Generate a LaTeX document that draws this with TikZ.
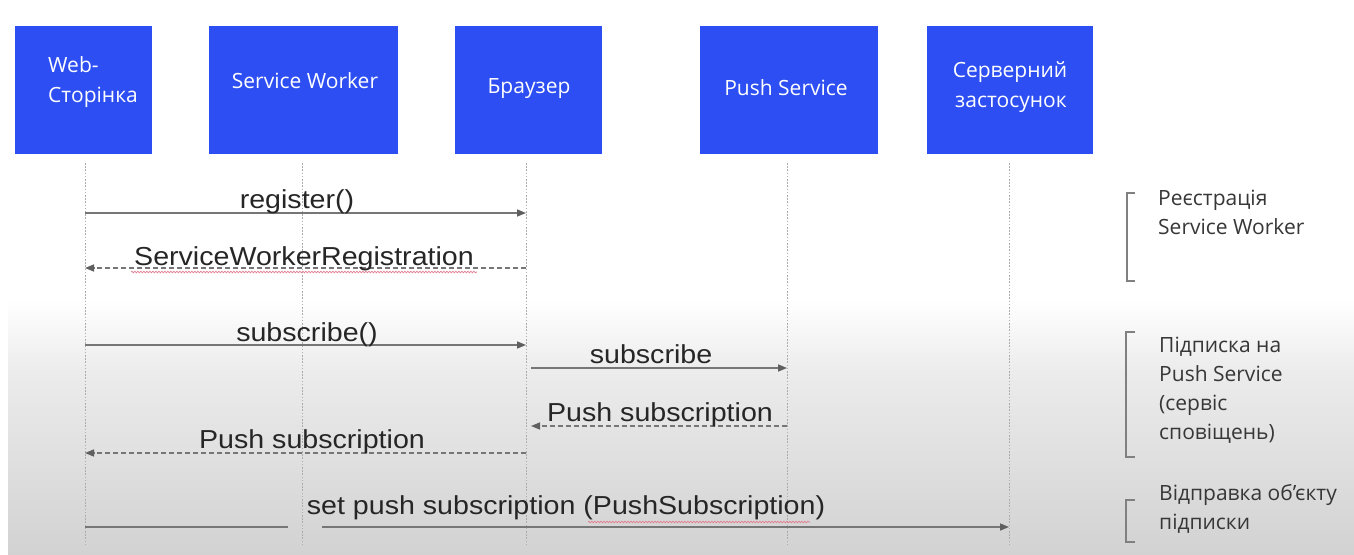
\documentclass[tikz,border=0pt]{standalone}
\usepackage{fontspec}
\usetikzlibrary{arrows.meta,decorations.pathmorphing}

\newfontfamily\boxfont{Open Sans}
\newfontfamily\msgfont[FakeStretch=1.1]{Liberation Sans}
\newfontfamily\notefont{Open Sans}

\definecolor{actorblue}{RGB}{44,78,242}
\definecolor{wire}{RGB}{118,118,118}
\definecolor{tipgray}{RGB}{95,95,95}
\definecolor{lifegray}{RGB}{172,172,172}
\definecolor{inkgray}{RGB}{38,38,38}
\definecolor{notegray}{RGB}{55,55,55}
\definecolor{squiggle}{RGB}{226,125,145}
\definecolor{fadeA}{RGB}{236,236,236}
\definecolor{fadeB}{RGB}{210,210,210}

\begin{document}
\begin{tikzpicture}[x=1pt,y=-1pt,
  actor/.style={draw=none,fill=actorblue,inner sep=0pt},
  actortext/.style={font=\boxfont\fontsize{21}{28}\selectfont,text=white,inner sep=0pt,anchor=base},
  lifeline/.style={draw=lifegray,line width=0.9pt,dash pattern=on 1.6pt off 1.6pt},
  callmsg/.style={draw=wire,line width=1.5pt,-{Triangle[length=9pt,width=7pt,fill=tipgray,color=tipgray]}},
  plainmsg/.style={draw=wire,line width=1.5pt},
  replymsg/.style={callmsg,dash pattern=on 5pt off 3pt},
  msgtext/.style={font=\msgfont\fontsize{26}{30}\selectfont,text=inkgray,inner sep=0pt,anchor=base},
  bracket/.style={draw=gray,line width=1.5pt},
  note/.style={font=\notefont\fontsize{21}{29}\selectfont,text=notegray,inner sep=0pt,anchor=north west,align=left},
  spell/.style={draw=squiggle,line width=0.7pt,decorate,decoration={snake,amplitude=0.8pt,segment length=3pt}}
]
\useasboundingbox (0,0) rectangle (1354,554);

% page background: white top, grey fade towards the bottom
\fill[white] (0,0) rectangle (1354,554);
\shade[top color=white,bottom color=fadeA] (8,300) rectangle (1354,370);
\shade[top color=fadeA,bottom color=fadeB] (8,370) rectangle (1354,554);

% participants
\node[actor,minimum width=137pt,minimum height=128pt] (web)  at (83.5,90) {};
\node[actor,minimum width=189pt,minimum height=128pt] (sw)   at (303.5,90) {};
\node[actor,minimum width=147pt,minimum height=128pt] (brw)  at (528.5,90) {};
\node[actor,minimum width=178pt,minimum height=128pt] (push) at (789,90) {};
\node[actor,minimum width=166pt,minimum height=128pt] (srv)  at (1010,90) {};

\node[actortext,anchor=base west] (webt1) at (48,72) {Web-};
\node[actortext,anchor=base west] (webt2) at (48,102) {Сторінка};
\node[actortext] (swt)   at (305,88)  {Service Worker};
\node[actortext] (brwt)  at (529,93)  {Браузер};
\node[actortext] (pusht) at (786,95)  {Push Service};
\node[actortext] (srvt1) at (1010,77) {Серверний};
\node[actortext] (srvt2) at (1011,107) {застосунок};

% lifelines
\coordinate (webL)  at (85,163);
\coordinate (swL)   at (302,163);
\coordinate (brwL)  at (526,163);
\coordinate (pushL) at (787,163);
\coordinate (srvL)  at (1009,163);
\coordinate (lifeEnd) at (0,545);
\foreach \l in {webL,swL,brwL,pushL,srvL}
  \draw[lifeline] (\l) -- (\l |- lifeEnd);

% message rows
\coordinate (r1) at (0,213);
\coordinate (r2) at (0,268);
\coordinate (r3) at (0,345);
\coordinate (r4) at (0,368);
\coordinate (r5) at (0,426);
\coordinate (r6) at (0,453);
\coordinate (r7) at (0,527);

\draw[callmsg]  (webL |- r1) -- (brwL |- r1);
\node[msgtext] (m1) at (297,208) {register()};

\draw[replymsg] (brwL |- r2) -- (webL |- r2);
\node[msgtext] (m2) at (304,265) {ServiceWorkerRegistration};
\draw[spell] (131,272) -- (477,272);

\draw[callmsg]  (webL |- r3) -- (brwL |- r3);
\node[msgtext] (m3) at (307,341) {subscribe()};

\draw[callmsg]  ([xshift=5pt]brwL |- r4) -- (pushL |- r4);
\node[msgtext] (m4) at (651,363) {subscribe};

\draw[replymsg] (pushL |- r5) -- ([xshift=5pt]brwL |- r5);
\node[msgtext] (m5) at (660,421) {Push subscription};

\draw[replymsg] (brwL |- r6) -- (webL |- r6);
\node[msgtext] (m6) at (312,448) {Push subscription};

\coordinate (gapL) at (288,527);
\coordinate (gapR) at (322,527);
\draw[plainmsg] (webL |- r7) -- (gapL);
\draw[callmsg]  (gapR) -- (srvL |- r7);
\node[msgtext] (m7) at (566,514) {set push subscription (PushSubscription)};
\draw[spell] (588,522) -- (810,522);

% phase brackets and their notes
\draw[bracket] (1135,193) -- (1127,193) -- (1127,281) -- (1135,281);
\node[note] (n1) at (1158,190) {Реєстрація\\Service Worker};

\draw[bracket] (1135,332) -- (1126,332) -- (1126,457) -- (1135,457);
\node[note] (n2) at (1159,337) {Підписка на\\Push Service\\(сервіс\\сповіщень)};

\draw[bracket] (1135,500) -- (1126,500) -- (1126,542) -- (1135,542);
\node[note] (n3) at (1159,484) {Відправка об’єкту\\підписки};
\end{tikzpicture}
\end{document}
